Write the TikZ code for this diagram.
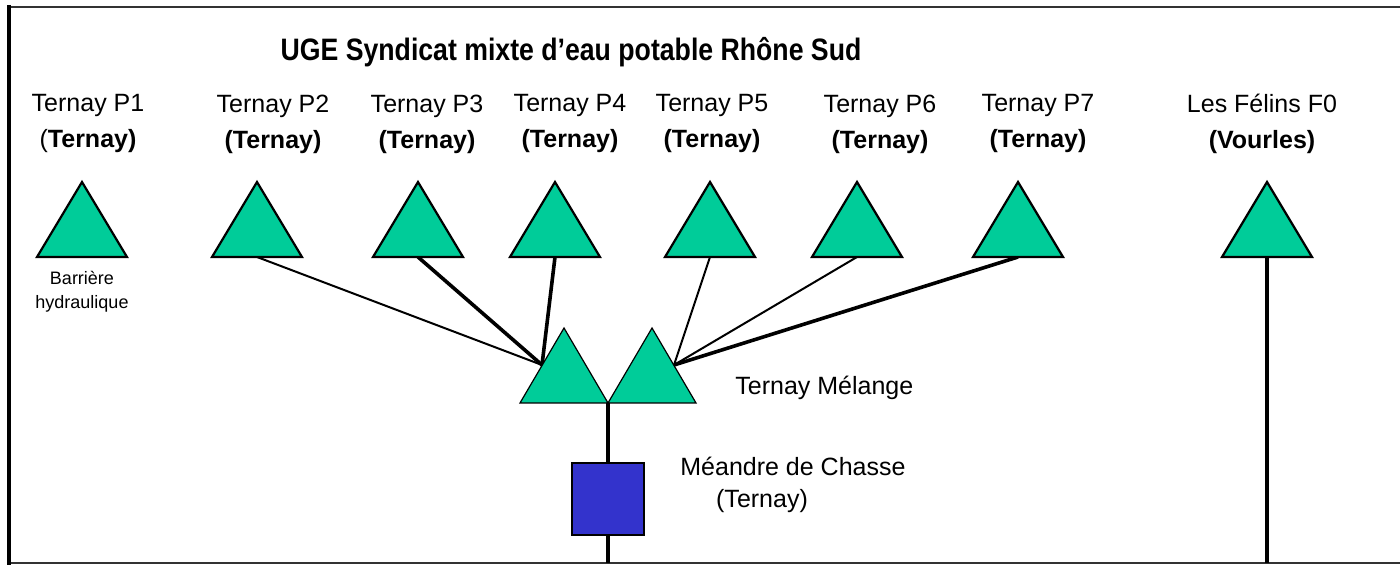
\documentclass[tikz,border=0pt]{standalone}
\usepackage{fontspec}
\setmainfont{Liberation Sans}
\usepackage{xcolor}
\usepackage{tikz}
\usetikzlibrary{positioning}
\definecolor{gruen}{RGB}{0,204,153}
\definecolor{blau}{RGB}{51,51,204}
\tikzset{
  Brunnen/.pic={\filldraw[fill=gruen, draw=black, line width=1.1pt, line join=miter] (-45,0) -- (0,-75) -- (45,0) -- cycle;}, % Brunnen
  Mischung/.pic={\filldraw[fill=gruen, draw=black, line width=0.6pt, line join=miter] (-44,0) -- (0,-75) -- (44,0) -- cycle;}, % Mischanlage
  Leitung/.style={line width=#1, line cap=butt}, % Leitungen
  Schild/.style={font=\fontsize{12.5}{18}\selectfont, align=center, inner sep=0pt}, % Beschriftungen
  Klein/.style={font=\fontsize{9}{12}\selectfont, align=center, inner sep=0pt}
}

\begin{document}
\begin{tikzpicture}[x=0.5pt, y=-0.5pt]
\useasboundingbox (0,0) rectangle (1400,565);

%Rahmen
\draw[line width=0.8pt, black!80] (1400,7) -- (9,7);
\draw[line width=0.8pt, black!80] (9,563) -- (1400,563);
\draw[line width=2pt] (9,5) -- (9,565);

%Titel
\node[font=\fontsize{15.5}{18}\selectfont\bfseries, inner sep=0pt] (titel) at (571,52) {\scalebox{0.86}[1]{UGE Syndicat mixte d’eau potable Rhône Sud}};

%Brunnen
\coordinate (p1) at (82,257);
\coordinate (p2) at (257,257);
\coordinate (p3) at (418,257);
\coordinate (p4) at (555,257);
\coordinate (p5) at (710,257);
\coordinate (p6) at (857,257);
\coordinate (p7) at (1018,257);
\coordinate (f0) at (1267,257);
\coordinate (m1) at (564,403);
\coordinate (m2) at (652,403);
\coordinate (knoten) at (608,403);
\coordinate (mixL) at (542,365);
\coordinate (mixR) at (674,365);
\coordinate (endeM) at (608,563);
\coordinate (endeF) at (1267,563);

%Leitungen
\draw[Leitung=1pt] (p2) -- (mixL);
\draw[Leitung=1.8pt] (p3) -- (mixL);
\draw[Leitung=1.8pt] (p4) -- (mixL);
\draw[Leitung=1pt] (p5) -- (mixR);
\draw[Leitung=1pt] (p6) -- (mixR);
\draw[Leitung=1.8pt] (p7) -- (mixR);
\draw[Leitung=2pt] (knoten) -- (endeM);
\draw[Leitung=2pt] (f0) -- (endeF);

\pic at (p1) {Brunnen};
\pic at (p2) {Brunnen};
\pic at (p3) {Brunnen};
\pic at (p4) {Brunnen};
\pic at (p5) {Brunnen};
\pic at (p6) {Brunnen};
\pic at (p7) {Brunnen};
\pic at (f0) {Brunnen};
\pic at (m1) {Mischung};
\pic at (m2) {Mischung};

%Méandre
\node[draw=black, fill=blau, line width=0.6pt, minimum size=36pt, inner sep=0pt] (meandre) at (608,499) {};

%Beschriftungen
\node[Schild] (lp1) at (88,124) {Ternay P1\\(\textbf{Ternay)}};
\node[Schild] (lp2) at (273,124) {Ternay P2\\\textbf{(Ternay)}};
\node[Schild] (lp3) at (427,124) {Ternay P3\\\textbf{(Ternay)}};
\node[Schild] (lp4) at (570,124) {Ternay P4\\\textbf{(Ternay)}};
\node[Schild] (lp5) at (712,124) {Ternay P5\\\textbf{(Ternay)}};
\node[Schild] (lp6) at (880,124) {Ternay P6\\\textbf{(Ternay)}};
\node[Schild] (lp7) at (1038,124) {Ternay P7\\\textbf{(Ternay)}};
\node[Schild] (lf0) at (1262,124) {Les Félins F0\\\textbf{(Vourles)}};
\node[Klein] (barriere) at (82,292) {Barrière\\hydraulique};
\node[Schild, anchor=west] (lmix) at (735,388) {Ternay Mélange};
\node[Schild, anchor=west] (lmea) at (680,466) {Méandre de Chasse};
\node[Schild] (lmea2) at (762,501) {(Ternay)};

\end{tikzpicture}
\end{document}
